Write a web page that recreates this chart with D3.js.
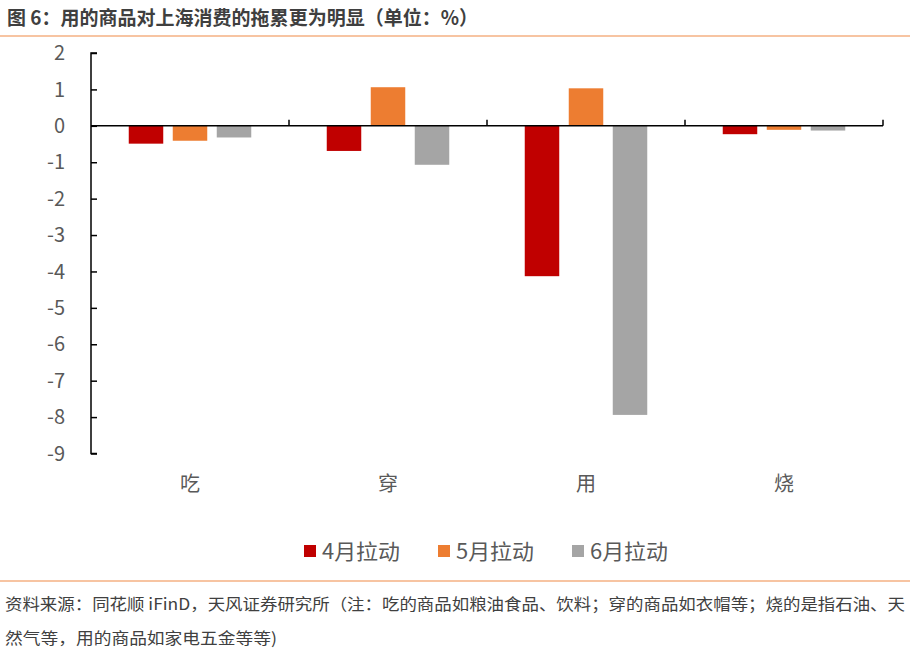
<!DOCTYPE html>
<html><head><meta charset="utf-8">
<script src="https://cdn.jsdelivr.net/npm/d3@7"></script>
<style>body{margin:0;background:#fff;}svg{display:block;}</style>
</head><body>
<svg id="chart" width="910" height="655"></svg>
<script>
const categories = ["吃", "穿", "用", "烧"];
const seriesNames = ["4月拉动", "5月拉动", "6月拉动"];
const april = [-0.49, -0.69, -4.13, -0.23];
const may = [-0.41, 1.06, 1.03, -0.11];
const june = [-0.32, -1.07, -7.94, -0.13];
const yTicks = [2, 1, 0, -1, -2, -3, -4, -5, -6, -7, -8, -9];
const colors = ["#C00000", "#ED7D31", "#A5A5A5"];
const titleText = "图 6：用的商品对上海消费的拖累更为明显（单位：%）";
const noteLine1 = "资料来源：同花顺 iFinD，天风证券研究所（注：吃的商品如粮油食品、饮料；穿的商品如衣帽等；烧的是指石油、天";
const noteLine2 = "然气等，用的商品如家电五金等等)";

const seriesValues = [april, may, june];
const svg = d3.select("#chart");
const font = "'Noto Sans CJK SC', 'Noto Sans', sans-serif";

// title
svg.append("text").attr("x", 7).attr("y", 25).attr("font-family", font)
  .attr("font-size", 19.5).attr("font-weight", "bold").attr("fill", "#3f3f3f")
  .attr("textLength", 471).attr("lengthAdjust", "spacingAndGlyphs")
  .text(titleText);
svg.append("line").attr("x1", 0).attr("x2", 910).attr("y1", 36).attr("y2", 36)
  .attr("stroke", "#F4B183").attr("stroke-width", 1.5);

const left = 91, right = 883;
const y = d3.scaleLinear().domain([-9, 2]).range([453.5, 53]);
const x0 = d3.scaleBand().domain(categories).range([left, right]).padding(0);
const x1 = d3.scaleBand().domain(seriesNames).range([-61.25, 61.25]).paddingInner(0.216);

const g = svg.append("g");
// bars
seriesNames.forEach((s, si) => {
  g.selectAll(".bar" + si).data(categories).enter().append("rect")
    .attr("x", c => x0(c) + x0.bandwidth() / 2 + x1(s))
    .attr("width", x1.bandwidth())
    .attr("y", (c, i) => y(Math.max(0, seriesValues[si][i])))
    .attr("height", (c, i) => Math.abs(y(seriesValues[si][i]) - y(0)))
    .attr("fill", colors[si]);
});

// y axis
const yAxis = d3.axisRight(y).tickValues(yTicks).tickSize(6).tickFormat("");
const ya = svg.append("g").attr("transform", `translate(${left},0)`).call(yAxis);
ya.select(".domain").attr("stroke", "#000").attr("stroke-width", 1.5).attr("d", `M6,${y(2)}H0V${y(-9)}H6`);
ya.selectAll(".tick line").attr("stroke", "#000").attr("stroke-width", 1.5);
svg.append("g").selectAll("text").data(yTicks).enter().append("text")
  .attr("x", 65).attr("y", d => y(d)).attr("dy", "0.36em").attr("text-anchor", "end")
  .attr("font-family", font).attr("font-size", 20).attr("fill", "#595959")
  .text(d => d);

// x axis at zero
const boundaries = categories.map(c => x0(c)).concat([right]);
svg.append("line").attr("x1", left).attr("x2", right).attr("y1", y(0)).attr("y2", y(0))
  .attr("stroke", "#000").attr("stroke-width", 1.5);
svg.append("g").selectAll("line").data(boundaries.slice(1)).enter().append("line")
  .attr("x1", d => d).attr("x2", d => d).attr("y1", y(0)).attr("y2", y(0) - 6)
  .attr("stroke", "#000").attr("stroke-width", 1.5);
svg.append("g").selectAll("text").data(categories).enter().append("text")
  .attr("x", c => x0(c) + x0.bandwidth() / 2).attr("y", 491).attr("text-anchor", "middle")
  .attr("font-family", font).attr("font-size", 20).attr("fill", "#595959")
  .text(c => c);

// legend
const legendX = [304, 438, 572];
const lg = svg.append("g");
seriesNames.forEach((s, i) => {
  lg.append("rect").attr("x", legendX[i]).attr("y", 545).attr("width", 12).attr("height", 12).attr("fill", colors[i]);
  lg.append("text").attr("x", legendX[i] + 18).attr("y", 559).attr("font-family", font)
    .attr("font-size", 21).attr("fill", "#595959")
    .attr("textLength", 78).attr("lengthAdjust", "spacingAndGlyphs").text(s);
});

// footer
svg.append("line").attr("x1", 0).attr("x2", 910).attr("y1", 581).attr("y2", 581)
  .attr("stroke", "#F4B183").attr("stroke-width", 1.5);
svg.append("text").attr("x", 5).attr("y", 610).attr("font-family", font)
  .attr("font-size", 16).attr("fill", "#404040")
  .attr("textLength", 900).attr("lengthAdjust", "spacingAndGlyphs").text(noteLine1);
svg.append("text").attr("x", 5).attr("y", 644).attr("font-family", font)
  .attr("font-size", 16).attr("fill", "#404040")
  .attr("textLength", 272).attr("lengthAdjust", "spacingAndGlyphs").text(noteLine2);
</script>
</body></html>
